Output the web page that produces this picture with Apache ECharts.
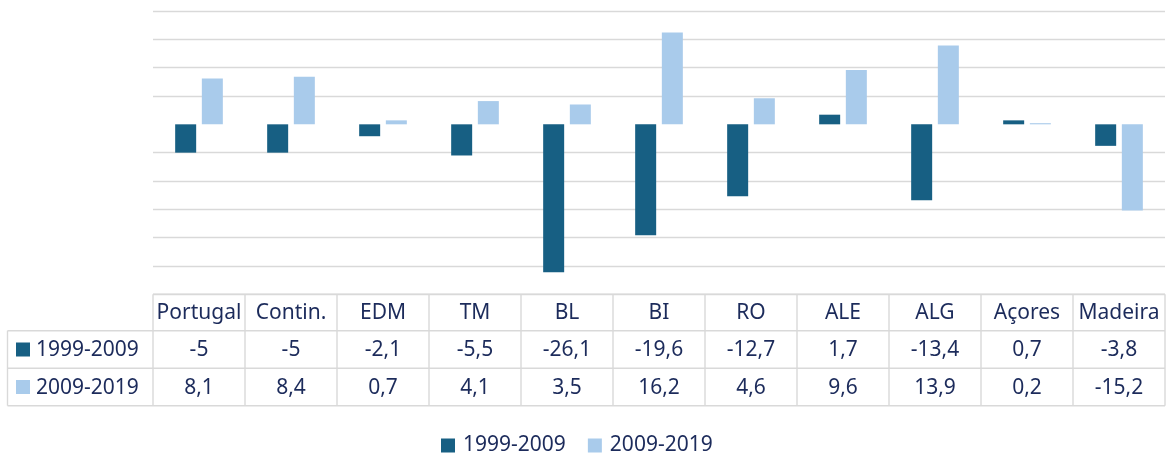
<!DOCTYPE html>
<html lang="pt">
<head>
<meta charset="UTF-8">
<title>Variação por região</title>
<script src="https://cdn.jsdelivr.net/npm/echarts@6.0.0/dist/echarts.min.js"></script>
<style>
  html, body { margin: 0; padding: 0; background: #fff; }
  #main { width: 1176px; height: 453px; }
</style>
</head>
<body>
<div id="main"></div>
<script>
const regions = ['Portugal', 'Contin.', 'EDM', 'TM', 'BL', 'BI', 'RO', 'ALE', 'ALG', 'Açores', 'Madeira'];
const periods = ['1999-2009', '2009-2019'];
const v1999 = [-5, -5, -2.1, -5.5, -26.1, -19.6, -12.7, 1.7, -13.4, 0.7, -3.8];
const v2009 = [8.1, 8.4, 0.7, 4.1, 3.5, 16.2, 4.6, 9.6, 13.9, 0.2, -15.2];

const colors = ['#175f83', '#a9cbeb'];
const ink = '#1c2b5b';
const rule = '#d9d9d9';
const font = '"Noto Sans", sans-serif';
const fontSize = 21;

// grid lines from -30 to 20; the one at 0 is hidden like in the original
const splitColors = [rule, rule, rule, rule, rule, rule, 'transparent', rule, rule, rule, rule];

const fmt = v => String(v).replace('.', ',');

const chart = echarts.init(document.getElementById('main'), null, { renderer: 'canvas' });

chart.setOption({
  animation: false,
  textStyle: { fontFamily: font },
  color: colors,
  grid: { left: 153, right: 11, top: 11, bottom: 158.7 },
  legend: {
    left: 436,
    top: 430,
    icon: 'rect',
    itemWidth: 14,
    itemHeight: 14,
    itemGap: 22,
    textStyle: { fontSize: fontSize, color: ink, fontFamily: font, padding: [0, 0, 0, 3] },
    data: periods
  },
  xAxis: {
    type: 'category',
    data: regions,
    axisLine: { show: false },
    axisTick: { show: false },
    axisLabel: { show: false }
  },
  yAxis: {
    type: 'value',
    min: -30,
    max: 20,
    interval: 5,
    axisLabel: { show: false },
    axisLine: { show: false },
    axisTick: { show: false },
    splitLine: { lineStyle: { color: splitColors, width: 1.4 } }
  },
  series: [
    {
      name: periods[0],
      type: 'bar',
      data: v1999,
      barWidth: 21,
      barGap: '27%'
    },
    {
      name: periods[1],
      type: 'bar',
      data: v2009,
      barWidth: 21
    }
  ]
});

// data table under the plot
const tableLeft = 153, tableRight = 1165, labelLeft = 7.5;
const rowY = [294.3, 330.7, 368.3, 405.7];
const colW = (tableRight - tableLeft) / regions.length;
const els = [];
const line = (x1, y1, x2, y2) => els.push({
  type: 'line', shape: { x1, y1, x2, y2 }, style: { stroke: rule, lineWidth: 1.4 }, silent: true
});
const text = (x, y, s, align) => els.push({
  type: 'text', x, y,
  style: { text: s, fill: ink, font: fontSize + 'px ' + font, align: align || 'center', verticalAlign: 'middle' },
  silent: true
});

line(tableLeft, rowY[0], tableRight, rowY[0]);
for (let r = 1; r < rowY.length; r++) line(labelLeft, rowY[r], tableRight, rowY[r]);
line(labelLeft, rowY[1], labelLeft, rowY[3]);
for (let c = 0; c <= regions.length; c++) {
  const x = tableLeft + c * colW;
  line(x, rowY[0], x, rowY[3]);
}

const rows = [v1999, v2009];
regions.forEach((name, i) => {
  const cx = chart.convertToPixel({ xAxisIndex: 0 }, name);
  text(cx, (rowY[0] + rowY[1]) / 2 + 1, name);
  rows.forEach((vals, r) => text(cx, (rowY[r + 1] + rowY[r + 2]) / 2 + 1, fmt(vals[i])));
});
periods.forEach((p, r) => {
  const cy = (rowY[r + 1] + rowY[r + 2]) / 2;
  els.push({ type: 'rect', shape: { x: 16, y: cy - 7, width: 14, height: 14 }, style: { fill: colors[r] }, silent: true });
  text(36, cy + 1, p, 'left');
});

chart.setOption({ graphic: { elements: els } });
</script>
</body>
</html>
